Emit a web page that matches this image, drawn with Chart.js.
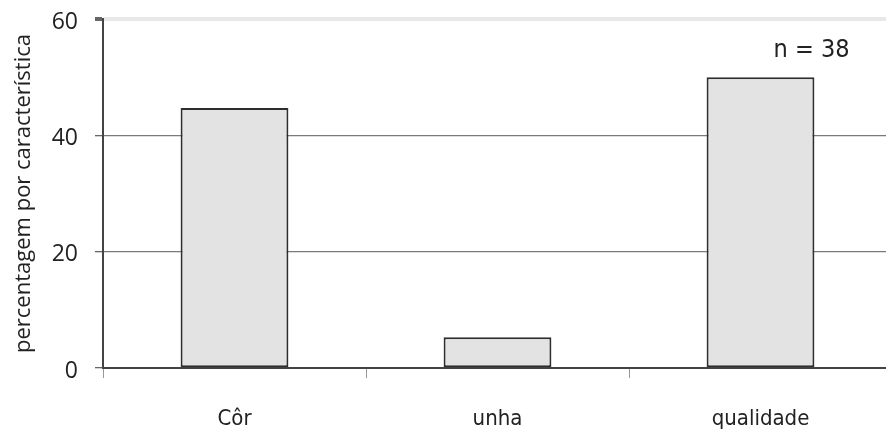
<!DOCTYPE html>
<html>
<head>
<meta charset="utf-8">
<script src="https://cdn.jsdelivr.net/npm/chart.js@4"></script>
<style>
  html, body { margin: 0; padding: 0; background: #fff; overflow: hidden; }
  #wrap { width: 886px; height: 435px; overflow: hidden; }
</style>
</head>
<body>
<div id="wrap"><canvas id="chart" width="892" height="435"></canvas></div>
<script>
const categories = ['Côr', 'unha', 'qualidade'];
const percentages = [44.7, 5.3, 50.0];
const yTicks = [0, 20, 40, 60];
const sampleNote = 'n = 38';
const yTitle = 'percentagem por característica';

const FONT = "'Open Sans', sans-serif";
const NARROW = "'Liberation Sans Narrow', 'DejaVu Sans Condensed', sans-serif";

// draws the "n = 38" note in the upper right corner
const notePlugin = {
  id: 'note',
  afterDraw(chart) {
    const { ctx } = chart;
    const x = chart.scales.x.getPixelForValue(2) + 51;
    const y = chart.scales.y.getPixelForValue(54.6);
    ctx.save();
    ctx.font = '25px ' + NARROW;
    ctx.fillStyle = '#222';
    ctx.textAlign = 'center';
    ctx.textBaseline = 'middle';
    ctx.fillText(sampleNote, x, y);
    ctx.restore();
  },
};

const ctx = document.getElementById('chart').getContext('2d');
new Chart(ctx, {
  type: 'bar',
  data: {
    labels: categories,
    datasets: [
      {
        data: percentages,
        backgroundColor: '#e3e3e3',
        borderColor: '#2e2e2e',
        borderWidth: 2,
        borderSkipped: false,
        barPercentage: 0.41,
        categoryPercentage: 1,
      },
    ],
  },
  options: {
    responsive: false,
    animation: false,
    layout: { padding: { top: 19, right: 0, left: 0, bottom: 0 } },
    plugins: { legend: { display: false }, tooltip: { enabled: false } },
    scales: {
      x: {
        offset: true,
        grid: {
          offset: true,
          drawOnChartArea: false,
          drawTicks: true,
          tickLength: 10,
          tickColor: '#999',
        },
        border: { color: '#444', width: 2 },
        ticks: { color: '#222', font: { family: NARROW, size: 22 }, padding: 28 },
        afterFit(scale) {
          scale.height = 67;
          scale.paddingLeft = 0;
          scale.paddingRight = 0;
        },
      },
      y: {
        min: 0,
        max: 60,
        afterBuildTicks(scale) {
          scale.ticks = yTicks.map((v) => ({ value: v }));
        },
        grid: {
          color: (c) => (c.tick && c.tick.value === 60 ? '#e8e8e8' : '#7a7a7a'),
          lineWidth: (c) => (c.tick && c.tick.value === 60 ? 4 : 1.3),
          tickLength: 8,
          tickColor: '#666',
        },
        border: { color: '#444', width: 2 },
        ticks: {
          color: '#222',
          font: { family: FONT, size: 23, lineHeight: '6px' },
          padding: 17,
          // empty first line nudges the label a few pixels down, as in the source
          callback: (v) => ['', String(v)],
        },
        title: {
          display: true,
          text: yTitle,
          color: '#222',
          font: { family: FONT, size: 22 },
          padding: { top: 11, bottom: 0 },
        },
        afterFit(scale) {
          scale.width = 103;
          scale.paddingTop = 0;
          scale.paddingBottom = 0;
        },
      },
    },
  },
  plugins: [notePlugin],
});
</script>
</body>
</html>
